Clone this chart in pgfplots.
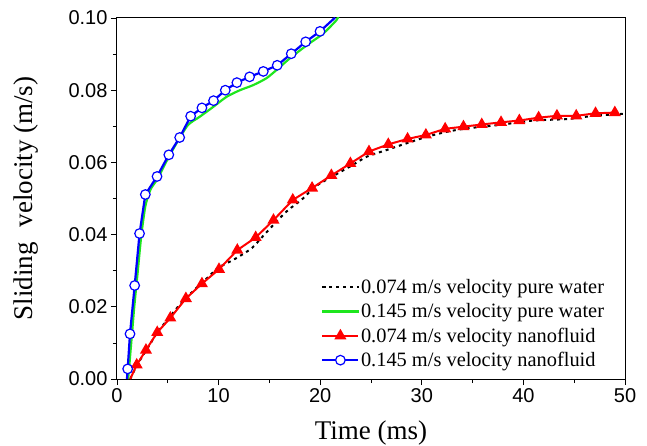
\documentclass[border=0pt]{standalone}
\usepackage{fontspec}
\setmainfont{Liberation Serif}
\setsansfont{Liberation Sans}
\usepackage{pgfplots}
\pgfplotsset{compat=1.18}
\usetikzlibrary{calc}

\definecolor{wgreen}{HTML}{1EE61E}

\begin{document}
\begin{tikzpicture}
\begin{axis}[
  scale only axis,
  width=508pt, height=361pt,
  xmin=0, xmax=50, ymin=0, ymax=0.10,
  xtick={0,10,...,50}, ytick={0,0.02,...,0.1},
  minor x tick num=1, minor y tick num=1,
  tick align=outside, tick pos=left,
  major tick length=6pt, minor tick length=4pt,
  every tick/.style={black, line width=0.8pt},
  axis line style={line width=1pt},
  /pgf/number format/assume math mode=true,
  ticklabel style={font=\sffamily\fontsize{20}{22}\selectfont},
  yticklabel style={/pgf/number format/fixed, /pgf/number format/fixed zerofill, /pgf/number format/precision=2},
  scaled y ticks=false,
  xlabel={Time (ms)},
  ylabel={Sliding\hspace{0.55em}velocity (m/s)},
  label style={font=\fontsize{27}{30}\selectfont},
  xlabel style={yshift=-11pt},
  ylabel style={yshift=23pt},
  legend style={at={(0.968,0.02)}, anchor=south east, draw=none, fill=none,
    font=\fontsize{20.4}{22}\selectfont, row sep=5.5pt,
    nodes={inner sep=1.5pt}},
  legend cell align=left,
  legend image code/.code={
    \draw[mark indices={2}] plot coordinates {(0pt,0pt) (18pt,0pt) (36pt,0pt)};
  },
]
\coordinate (ll) at (rel axis cs:0,0);
\coordinate (ur) at (rel axis cs:1,1);

% 0.074 m/s pure water
\addplot[black, line width=2pt, dash pattern=on 3pt off 4pt, smooth, tension=0.4] coordinates {
 (1.3,0) (2,0.004) (3,0.0085) (4,0.013) (5,0.0165) (6,0.0200) (7,0.0230) (8,0.0257)
 (9,0.0283) (10,0.0309) (11.45,0.0330) (13.25,0.0362) (14.5,0.0400) (16,0.0445)
 (16.85,0.0468) (18.3,0.0500) (19.15,0.0524) (20,0.0542) (22.9,0.0588) (24.6,0.0616)
 (26.5,0.0634) (28.5,0.0653) (30.5,0.0671) (32.5,0.0685) (34.4,0.0694) (37.7,0.0704)
 (41.0,0.0716) (44.3,0.0720) (46.9,0.0729) (49.5,0.0734) (50,0.0735)
};
\addlegendentry{0.074 m/s velocity pure water}

% 0.145 m/s pure water
\addplot[wgreen, line width=2.2pt, smooth, tension=0.4] coordinates {
 (1.1,0) (1.4,0.010) (1.7,0.020) (2.05,0.030) (2.4,0.040) (2.8,0.048) (3.3,0.0525)
 (4.0,0.0555) (5.0,0.0610) (6.0,0.0660) (7.0,0.0704) (8.17,0.0727) (9.48,0.0754)
 (10.8,0.0782) (12.1,0.0800) (13.4,0.0814) (14.7,0.0833) (15.7,0.0856) (17.0,0.0888)
 (18.7,0.0925) (20.3,0.0957) (21.6,0.0994) (21.8,0.1005)
};
\addlegendentry{0.145 m/s velocity pure water}

% 0.074 m/s nanofluid
\addplot[red, line width=2pt, mark=triangle*, mark size=5pt,
  mark options={solid, fill=red}, mark indices={2,...,29}] coordinates {
 (1.3,0) (1.94,0.0039) (2.85,0.0080) (3.96,0.0129) (5.25,0.0169) (6.78,0.0223)
 (8.36,0.0264) (10.04,0.0304) (11.84,0.0357) (13.65,0.0392) (15.4,0.0440)
 (17.3,0.0496) (19.2,0.0529) (21.1,0.0564) (22.97,0.0597) (24.8,0.0630)
 (26.7,0.0650) (28.6,0.0665) (30.4,0.0676) (32.3,0.0693) (34.1,0.0699)
 (35.9,0.0705) (37.8,0.0711) (39.6,0.0716) (41.5,0.0724) (43.3,0.0729)
 (45.2,0.0729) (47.1,0.0736) (49.0,0.0738)
};
\addlegendentry{0.074 m/s velocity nanofluid}

% 0.145 m/s nanofluid
\addplot[blue, line width=2.2pt, mark=*, mark size=4.8pt,
  mark options={solid, fill=white, draw=blue, line width=1.2pt}, mark indices={2,...,21}] coordinates {
 (0.98,0) (1.05,0.0028) (1.28,0.0125) (1.74,0.0259) (2.22,0.0403) (2.79,0.0511)
 (3.94,0.0561) (5.1,0.0621) (6.17,0.0669) (7.25,0.0728) (8.36,0.0751) (9.5,0.0771)
 (10.66,0.0800) (11.8,0.0821) (13.05,0.0837) (14.4,0.0852) (15.77,0.0869)
 (17.15,0.0901) (18.57,0.0934) (19.98,0.0963) (21.46,0.1001)
};
\addlegendentry{0.145 m/s velocity nanofluid}
\end{axis}
\pgfresetboundingbox
\path ($(ll)+(-117pt,-66pt)$) rectangle ($(ur)+(22pt,18pt)$);
\end{tikzpicture}
\end{document}
